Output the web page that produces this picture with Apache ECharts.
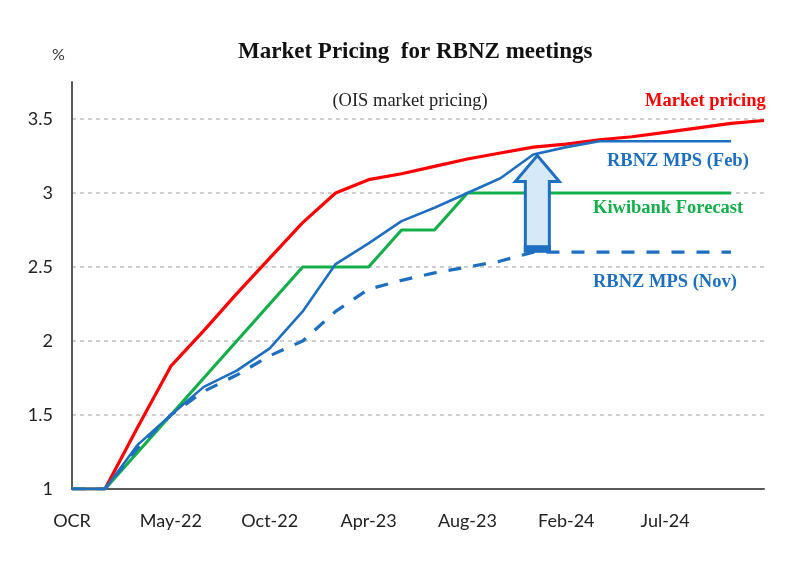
<!DOCTYPE html>
<html>
<head>
<meta charset="utf-8">
<script src="https://cdn.jsdelivr.net/npm/echarts@6/dist/echarts.min.js"></script>
<style>
html,body{margin:0;padding:0;background:#fff;}
#chart{width:800px;height:564px;}
</style>
</head>
<body>
<div id="chart"></div>
<script>
// Categories: OCR then RBNZ meeting dates
const categories = ['OCR','Feb-22','Apr-22','May-22','Jul-22','Aug-22','Oct-22','Nov-22','Feb-23','Apr-23','May-23','Jul-23','Aug-23','Oct-23','Nov-23','Feb-24','Apr-24','May-24','Jul-24','Aug-24','Oct-24','Nov-24'];
const tickLabels = ['OCR','May-22','Oct-22','Apr-23','Aug-23','Feb-24','Jul-24'];
const yTicks = [1, 1.5, 2, 2.5, 3, 3.5];

const marketPricing = [1.0,1.0,1.42,1.83,2.07,2.32,2.56,2.80,3.0,3.09,3.13,3.18,3.23,3.27,3.31,3.33,3.36,3.38,3.41,3.44,3.47,3.49];
const kiwibank      = [1.0,1.0,1.25,1.5,1.75,2.0,2.25,2.5,2.5,2.5,2.75,2.75,3.0,3.0,3.0,3.0,3.0,3.0,3.0,3.0,3.0,null];
const rbnzFeb       = [1.0,1.0,1.3,1.5,1.69,1.8,1.95,2.2,2.52,2.66,2.81,2.9,3.0,3.1,3.26,3.31,3.35,3.35,3.35,3.35,3.35,null];
const rbnzNov       = [1.0,1.0,1.28,1.5,1.66,1.77,1.9,2.0,2.2,2.35,2.41,2.46,2.5,2.54,2.6,2.6,2.6,2.6,2.6,2.6,2.6,null];

// arrow annotation: from Nov path to Feb path at this meeting
const arrowCategoryIndex = 14;

const RED = '#FF0000', GREEN = '#14AF4B', BLUE = '#1F6FC1';
const chart = echarts.init(document.getElementById('chart'));

const option = {
  backgroundColor: '#ffffff',
  animation: false,
  title: {
    text: 'Market Pricing  for RBNZ meetings',
    left: 233,
    top: 36,
    textStyle: {fontFamily: 'Liberation Serif', fontWeight: 'bold', fontSize: 23, color: '#111'}
  },
  grid: {left: 72, right: 36, top: 82, bottom: 75},
  xAxis: {
    type: 'category',
    data: categories,
    boundaryGap: false,
    axisTick: {show: false},
    axisLine: {lineStyle: {color: '#595959', width: 2}},
    axisLabel: {
      interval: (i, v) => tickLabels.indexOf(v) >= 0,
      margin: 23,
      fontFamily: 'Lato', fontSize: 18, color: '#222'
    },
    splitLine: {show: false}
  },
  yAxis: {
    type: 'value',
    min: 1, max: 3.75, interval: 0.5,
    axisLine: {show: true, lineStyle: {color: '#595959', width: 2}},
    axisTick: {show: false},
    axisLabel: {
      showMaxLabel: false,
      margin: 19,
      formatter: v => (yTicks.indexOf(v) >= 0 ? String(v) : ''),
      fontFamily: 'Lato', fontSize: 18, color: '#222'
    },
    splitLine: {show: true, showMinLine: false, showMaxLine: false, lineStyle: {color: '#c0c0c0', type: [4, 4], width: 1.5}}
  },
  series: [
    {name: 'Market pricing', type: 'line', data: marketPricing, symbol: 'none', lineStyle: {color: RED, width: 3.2}, z: 3},
    {name: 'Kiwibank Forecast', type: 'line', data: kiwibank, symbol: 'none', lineStyle: {color: GREEN, width: 3.2}, z: 3},
    {name: 'RBNZ MPS (Nov)', type: 'line', data: rbnzNov, symbol: 'none', lineStyle: {color: BLUE, width: 3.2, type: [13, 12]}, z: 3},
    {name: 'RBNZ MPS (Feb)', type: 'line', data: rbnzFeb, symbol: 'none', lineStyle: {color: BLUE, width: 2.6}, z: 4}
  ]
};
chart.setOption(option);

const txt = (x, y, text, color) => ({
  type: 'text', x: x, y: y, z: 20,
  style: {text: text, fill: color, font: 'bold 18.5px "Liberation Serif"', textVerticalAlign: 'middle'}
});

const tip = chart.convertToPixel({gridIndex: 0}, [arrowCategoryIndex, rbnzFeb[arrowCategoryIndex]]);
const base = chart.convertToPixel({gridIndex: 0}, [arrowCategoryIndex, rbnzNov[arrowCategoryIndex]]);
const cx = tip[0] + 4, ty = tip[1] + 1, by = base[1] - 1;
const hb = ty + 26, sw = 12, hw = 22;

chart.setOption({
  graphic: [
    {type: 'text', x: 52, y: 55, z: 20, style: {text: '%', fill: '#333', font: '16px Lato', textAlign: 'left', textVerticalAlign: 'middle'}},
    {type: 'text', x: 410, y: 101, z: 20, style: {text: '(OIS market pricing)', fill: '#222', font: '18.5px "Liberation Serif"', textAlign: 'center', textVerticalAlign: 'middle'}},
    txt(645, 101, 'Market pricing', RED),
    txt(607, 161, 'RBNZ MPS (Feb)', BLUE),
    txt(593, 208, 'Kiwibank Forecast', GREEN),
    txt(593, 282, 'RBNZ MPS (Nov)', BLUE),
    {
      type: 'polygon', z: 15,
      shape: {points: [[cx - sw, by], [cx - sw, hb], [cx - hw, hb], [cx, ty], [cx + hw, hb], [cx + sw, hb], [cx + sw, by]]},
      style: {fill: '#D6E9F8', stroke: BLUE, lineWidth: 3}
    },
    {type: 'rect', z: 16, shape: {x: cx - sw - 1.5, y: by - 6, width: 2 * sw + 3, height: 7}, style: {fill: BLUE}}
  ]
});
</script>
</body>
</html>
